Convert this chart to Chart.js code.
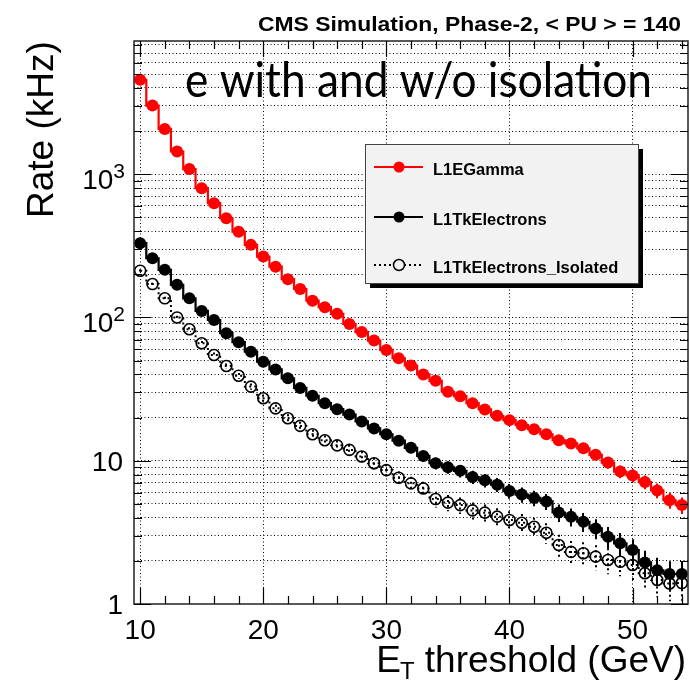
<!DOCTYPE html>
<html>
<head>
<meta charset="utf-8">
<script src="https://cdn.jsdelivr.net/npm/chart.js@4.4.1/dist/chart.umd.min.js"></script>
<style>
  html, body { margin: 0; padding: 0; background: #ffffff; }
  #wrap { width: 690px; height: 686px; }
</style>
</head>
<body>
<div id="wrap"><canvas id="rates" width="690" height="686"></canvas></div>
<script>
// E_T thresholds (GeV), one bin per GeV
const thresholds = [10, 11, 12, 13, 14, 15, 16, 17, 18, 19, 20, 21, 22, 23, 24, 25, 26, 27, 28, 29,
                    30, 31, 32, 33, 34, 35, 36, 37, 38, 39, 40, 41, 42, 43, 44, 45, 46, 47, 48, 49,
                    50, 51, 52, 53, 54];

// Trigger rates (kHz)
const l1EGamma = [4560, 3010, 2070, 1440, 1085, 798, 627, 493, 397, 321,
                  266, 226, 185, 158, 131, 118, 106, 90, 79, 69,
                  59.3, 51.9, 46.2, 40.0, 36.1, 30.3, 28.2, 25.2, 22.8, 20.6,
                  19.2, 17.7, 16.6, 15.3, 13.9, 13.2, 12.2, 11.0, 9.7, 8.4,
                  7.9, 7.1, 6.2, 5.3, 4.9];

const l1TkElectrons = [330, 259, 215, 169, 136, 111, 96, 77.6, 67.2, 57.7,
                       49.1, 43.4, 37.6, 32.2, 28.4, 25.2, 22.9, 21.0, 18.8, 16.8,
                       15.3, 13.8, 12.3, 10.8, 9.6, 9.0, 8.5, 7.7, 7.3, 6.8,
                       6.15, 5.8, 5.5, 5.2, 4.35, 4.06, 3.75, 3.37, 2.95, 2.65,
                       2.38, 1.95, 1.72, 1.62, 1.62];

const l1TkElectronsIso = [212, 171, 136, 100, 82.7, 66.0, 54.7, 45.8, 39.2, 32.9,
                          27.3, 23.2, 19.8, 17.5, 15.3, 13.9, 12.8, 11.9, 10.7, 9.6,
                          8.6, 7.6, 6.95, 6.4, 5.4, 5.1, 4.9, 4.5, 4.34, 4.07,
                          3.86, 3.69, 3.46, 3.14, 2.58, 2.31, 2.26, 2.14, 2.03, 1.97,
                          1.87, 1.64, 1.47, 1.39, 1.40];

// Rate carried by one simulated event (kHz); error bars are Poisson on the event count
const kHzPerEvent = 0.085;

// Axis ticks and labels
const xMajorTicks = [10, 20, 30, 40, 50];
const xMinorTicks = [12, 14, 16, 18, 22, 24, 26, 28, 32, 34, 36, 38, 42, 44, 46, 48, 52, 54];
const xTickLabels = ['10', '20', '30', '40', '50'];
const yDecades = [1, 10, 100, 1000];
const yDecadeBase = ['1', '10', '10', '10'];
const yDecadeExp = ['', '', '2', '3'];
const yMinorTicks = [2, 3, 4, 5, 6, 7, 8, 9,
                     20, 30, 40, 50, 60, 70, 80, 90,
                     200, 300, 400, 500, 600, 700, 800, 900,
                     2000, 3000, 4000, 5000, 6000, 7000, 8000];
const yGridValues = [...yMinorTicks, 10, 100, 1000].sort((a, b) => a - b);

const seriesNames = ['L1EGamma', 'L1TkElectrons', 'L1TkElectrons_Isolated'];

const FONT = '"Liberation Sans", Arial, Helvetica, sans-serif';

function points(values) {
  return thresholds.map((t, i) => ({ x: t, y: values[i] }));
}

// Poisson error bars, drawn under the markers
const errorBars = {
  id: 'errorBars',
  beforeDatasetsDraw(chart) {
    const { ctx, chartArea: a, scales: { x, y } } = chart;
    ctx.save();
    ctx.beginPath();
    ctx.rect(a.left, a.top, a.right - a.left, a.bottom - a.top);
    ctx.clip();
    chart.data.datasets.forEach(ds => {
      ctx.strokeStyle = ds.borderColor;
      ctx.lineWidth = 2;
      ctx.setLineDash(ds.borderDash || []);
      ds.data.forEach(p => {
        const err = Math.sqrt(p.y * kHzPerEvent);
        const px = Math.round(x.getPixelForValue(p.x));
        const lo = Math.max(p.y - err, 0.01);
        ctx.beginPath();
        ctx.moveTo(px, y.getPixelForValue(p.y + err));
        ctx.lineTo(px, y.getPixelForValue(lo));
        ctx.stroke();
      });
    });
    ctx.restore();
  }
};

// Frame, inner ticks, axis labels, titles and legend
const decorations = {
  id: 'decorations',
  afterDraw(chart) {
    const { ctx, chartArea: a, scales: { x, y } } = chart;
    ctx.save();
    ctx.setLineDash([]);

    // frame
    ctx.strokeStyle = '#222';
    ctx.lineWidth = 1.5;
    ctx.strokeRect(a.left, a.top, a.right - a.left, a.bottom - a.top);

    // ticks on all four sides
    ctx.strokeStyle = '#000';
    ctx.lineWidth = 1.2;
    const xTick = (v, len) => {
      const px = Math.round(x.getPixelForValue(v)) + 0.5;
      ctx.beginPath();
      ctx.moveTo(px, a.bottom); ctx.lineTo(px, a.bottom - len);
      ctx.moveTo(px, a.top); ctx.lineTo(px, a.top + len);
      ctx.stroke();
    };
    const yTick = (v, len) => {
      const py = Math.round(y.getPixelForValue(v)) + 0.5;
      ctx.beginPath();
      ctx.moveTo(a.left, py); ctx.lineTo(a.left + len, py);
      ctx.moveTo(a.right, py); ctx.lineTo(a.right - len, py);
      ctx.stroke();
    };
    xMajorTicks.forEach(v => xTick(v, 16));
    xMinorTicks.forEach(v => xTick(v, 8));
    yDecades.forEach(v => yTick(v, 17));
    yMinorTicks.forEach(v => yTick(v, 8));

    // x tick labels
    ctx.fillStyle = '#000';
    ctx.font = '28px ' + FONT;
    ctx.textAlign = 'center';
    ctx.textBaseline = 'alphabetic';
    xMajorTicks.forEach((v, i) => {
      ctx.fillText(xTickLabels[i], x.getPixelForValue(v), a.bottom + 35);
    });

    // y tick labels (powers of ten)
    yDecades.forEach((v, i) => {
      const py = y.getPixelForValue(v);
      if (yDecadeExp[i]) {
        ctx.font = '21px ' + FONT;
        ctx.textAlign = 'right';
        ctx.fillText(yDecadeExp[i], a.left - 9, py + 4);
        const ew = ctx.measureText(yDecadeExp[i]).width;
        ctx.font = '28px ' + FONT;
        ctx.fillText(yDecadeBase[i], a.left - 9 - ew, py + 15);
      } else {
        ctx.font = '28px ' + FONT;
        ctx.textAlign = 'right';
        ctx.fillText(yDecadeBase[i], a.left - 11, py + 10);
      }
    });

    // y axis title
    ctx.save();
    ctx.translate(53, 218);
    ctx.rotate(-Math.PI / 2);
    ctx.font = '37px ' + FONT;
    ctx.textAlign = 'left';
    ctx.fillText('Rate (kHz)', 0, 0);
    ctx.restore();

    // x axis title: E_T threshold (GeV)
    const xtRight = 686, xtBase = 672;
    ctx.font = '37px ' + FONT;
    ctx.textAlign = 'right';
    const rest = ' threshold (GeV)';
    ctx.fillText(rest, xtRight, xtBase);
    let cur = xtRight - ctx.measureText(rest).width;
    ctx.font = '24px ' + FONT;
    ctx.fillText('T', cur, xtBase + 7);
    cur -= ctx.measureText('T').width;
    ctx.font = '37px ' + FONT;
    ctx.fillText('E', cur + 1, xtBase);

    // header
    const header = 'CMS Simulation, Phase-2, < PU > = 140';
    ctx.font = 'bold 20px ' + FONT;
    ctx.textAlign = 'left';
    const hw = ctx.measureText(header).width;
    ctx.save();
    ctx.translate(258, 31);
    ctx.scale(423 / hw, 1);
    ctx.fillText(header, 0, 0);
    ctx.restore();

    // annotation
    const note = 'e with and w/o isolation';
    ctx.font = '49px Lato, "Open Sans", sans-serif';
    const nw = ctx.measureText(note).width;
    ctx.save();
    ctx.translate(185, 97);
    ctx.scale(467 / nw, 1);
    ctx.fillText(note, 0, 0);
    ctx.restore();

    // legend box with drop shadow
    const L = { x: 365, y: 144, w: 273, h: 139 };
    ctx.fillStyle = '#000';
    ctx.fillRect(L.x + 5, L.y + 5, L.w, L.h);
    ctx.fillStyle = '#f2f2f2';
    ctx.fillRect(L.x, L.y, L.w, L.h);
    ctx.strokeStyle = '#444';
    ctx.lineWidth = 1;
    ctx.strokeRect(L.x + 0.5, L.y + 0.5, L.w, L.h);
    const rows = [167, 217, 265];
    chart.data.datasets.forEach((ds, i) => {
      const ry = rows[i];
      ctx.strokeStyle = ds.borderColor;
      ctx.lineWidth = 2;
      ctx.setLineDash(ds.borderDash || []);
      ctx.beginPath();
      ctx.moveTo(374, ry); ctx.lineTo(423, ry);
      ctx.stroke();
      ctx.setLineDash([]);
      ctx.beginPath();
      ctx.arc(399, ry, 5.5, 0, Math.PI * 2);
      if (ds.pointBackgroundColor !== 'rgba(0,0,0,0)') {
        ctx.fillStyle = ds.pointBackgroundColor;
        ctx.fill();
      } else {
        ctx.fillStyle = '#f2f2f2';
        ctx.fill();
        ctx.lineWidth = 1.5;
        ctx.strokeStyle = ds.pointBorderColor;
        ctx.stroke();
      }
      ctx.fillStyle = '#000';
      ctx.font = 'bold 16.5px ' + FONT;
      ctx.textAlign = 'left';
      ctx.fillText(ds.label, 433, ry + 8);
    });

    ctx.restore();
  }
};

new Chart(document.getElementById('rates'), {
  type: 'line',
  data: {
    datasets: [
      {
        label: seriesNames[0],
        data: points(l1EGamma),
        borderColor: '#ff0000',
        borderWidth: 2.2,
        stepped: 'middle',
        pointRadius: 6,
        pointBackgroundColor: '#ff0000',
        pointBorderWidth: 0
      },
      {
        label: seriesNames[1],
        data: points(l1TkElectrons),
        borderColor: '#000000',
        borderWidth: 2.2,
        stepped: 'middle',
        pointRadius: 6,
        pointBackgroundColor: '#000000',
        pointBorderWidth: 0
      },
      {
        label: seriesNames[2],
        data: points(l1TkElectronsIso),
        borderColor: '#000000',
        borderWidth: 2,
        borderDash: [2, 3],
        stepped: 'middle',
        pointRadius: 5.5,
        pointBackgroundColor: 'rgba(0,0,0,0)',
        pointBorderColor: '#000000',
        pointBorderWidth: 1.6
      }
    ]
  },
  options: {
    responsive: false,
    animation: false,
    devicePixelRatio: 1,
    layout: { autoPadding: false, padding: { left: 134, top: 41, right: 2, bottom: 82 } },
    plugins: { legend: { display: false }, title: { display: false }, tooltip: { enabled: false } },
    scales: {
      x: {
        type: 'linear',
        min: 9.5,
        max: 54.5,
        afterBuildTicks: s => { s.ticks = xMajorTicks.map(v => ({ value: v })); },
        ticks: { display: false },
        grid: { color: '#000', lineWidth: 1, drawTicks: false },
        border: { display: false, dash: [1, 2.5] }
      },
      y: {
        type: 'logarithmic',
        min: 1,
        max: 8500,
        afterBuildTicks: s => { s.ticks = yGridValues.map(v => ({ value: v })); },
        ticks: { display: false },
        grid: { color: '#000', lineWidth: 1, drawTicks: false },
        border: { display: false, dash: [1, 2.5] }
      }
    }
  },
  plugins: [errorBars, decorations]
});
</script>
</body>
</html>
